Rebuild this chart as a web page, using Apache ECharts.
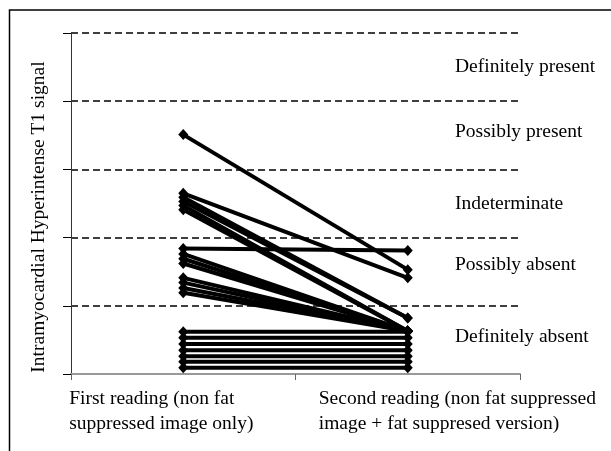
<!DOCTYPE html>
<html>
<head>
<meta charset="utf-8">
<script src="https://cdn.jsdelivr.net/npm/echarts@6/dist/echarts.min.js"></script>
<style>html,body{margin:0;padding:0;background:#fff;}#c{width:611px;height:451px;}</style>
</head>
<body>
<div id="c"></div>
<script>
// ---- data ----
const categories = ['First reading (non fat\nsuppressed image only)', 'Second reading (non fat suppressed\nimage + fat suppresed version)'];
const firstReading  = [3.51, 2.65, 2.59, 2.53, 2.47, 2.41, 1.84, 1.76, 1.69, 1.62, 1.41, 1.34, 1.26, 1.19, 0.62, 0.53, 0.44, 0.35, 0.26, 0.18, 0.09];
const secondReading = [1.53, 1.41, 0.82, 0.82, 0.63, 0.63, 1.81, 0.63, 0.63, 0.63, 0.63, 0.63, 0.63, 0.63, 0.62, 0.53, 0.44, 0.35, 0.26, 0.18, 0.09];
const bandLabels = ['Definitely present', 'Possibly present', 'Indeterminate', 'Possibly absent', 'Definitely absent'];
const bandLabelValues = [4.5, 3.55, 2.5, 1.6, 0.55];
const yAxisTitle = 'Intramyocardial Hyperintense T1 signal';

const FONT = 'Liberation Serif';
const chart = echarts.init(document.getElementById('c'), null, {renderer: 'canvas'});

const series = firstReading.map((v, i) => ({
  type: 'line',
  data: [v, secondReading[i]],
  symbol: 'diamond',
  symbolSize: [10, 11],
  itemStyle: {color: '#000'},
  lineStyle: {color: '#000', width: 4},
  silent: true,
  animation: false
}));

const labelShifts = [-114, -89];

chart.setOption({
  animation: false,
  grid: {left: 71, right: 91, top: 33, bottom: 77},
  xAxis: {
    type: 'category',
    boundaryGap: true,
    data: categories.map((c, i) => ({value: c, textStyle: {align: 'left', padding: [0, 0, 0, labelShifts[i]]}})),
    axisLine: {lineStyle: {color: '#999', width: 2}},
    axisTick: {show: true, length: 6, lineStyle: {color: '#666', width: 1}},
    axisLabel: {interval: 0, color: '#000', fontFamily: FONT, fontSize: 19.5, lineHeight: 25, margin: 12, hideOverlap: false}
  },
  yAxis: {
    type: 'value',
    min: 0, max: 5, interval: 1,
    name: yAxisTitle,
    nameLocation: 'middle',
    nameGap: 22,
    nameRotate: 90,
    nameTextStyle: {color: '#000', fontFamily: FONT, fontSize: 19.5, padding: [0, 27, 0, 0]},
    axisLine: {show: true, lineStyle: {color: '#333', width: 1}},
    axisTick: {show: true, length: 8, lineStyle: {color: '#000', width: 1}},
    axisLabel: {show: false},
    splitLine: {show: true, showMinLine: false, lineStyle: {color: '#000', width: 1.5, type: [7, 4]}}
  },
  series: series
});

const graphics = [{
  type: 'rect',
  shape: {x: 9.5, y: 10, width: 900, height: 900},
  style: {fill: 'none', stroke: '#000', lineWidth: 1.5},
  silent: true
}];
bandLabels.forEach((t, i) => {
  const y = chart.convertToPixel({yAxisIndex: 0}, bandLabelValues[i]);
  graphics.push({
    type: 'text',
    x: 455, y: y,
    style: {text: t, fill: '#000', font: '19.5px "' + FONT + '"', textAlign: 'left', textVerticalAlign: 'middle'},
    silent: true
  });
});
chart.setOption({graphic: graphics});
</script>
</body>
</html>
